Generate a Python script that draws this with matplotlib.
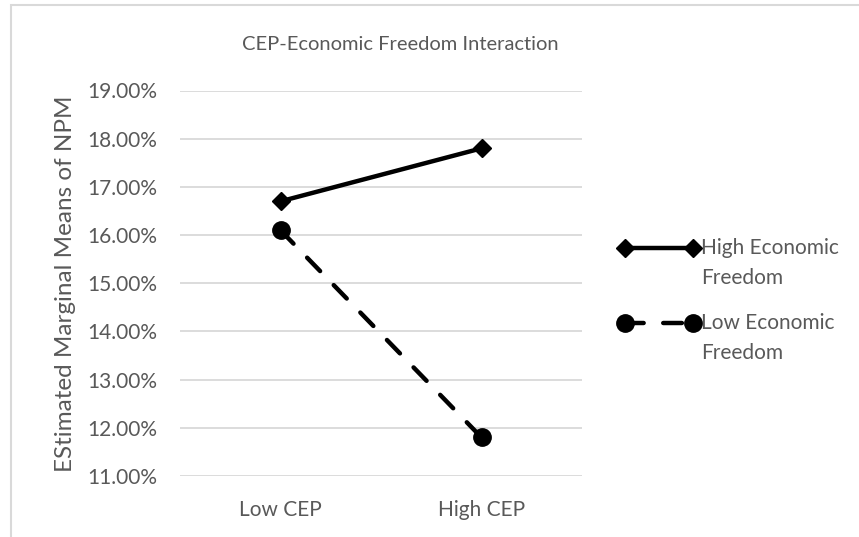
import matplotlib
matplotlib.use("Agg")
import matplotlib.pyplot as plt
from matplotlib.lines import Line2D
from matplotlib.patches import Rectangle
from matplotlib.ticker import FuncFormatter

# chart data
categories = ["Low CEP", "High CEP"]
high_freedom = [16.7, 17.8]   # %
low_freedom = [16.1, 11.8]    # %
series_labels = ["High Economic\nFreedom", "Low Economic\nFreedom"]
y_ticks = [11, 12, 13, 14, 15, 16, 17, 18, 19]

plt.rcParams["font.family"] = ["Lato", "DejaVu Sans"]
text_grey = "#595959"
grid_grey = "#d9d9d9"
W, H = 859, 537

fig = plt.figure(figsize=(W / 100, H / 100), dpi=100)
ax = fig.add_axes([180 / W, 1 - 476 / H, 402 / W, 385.5 / H])

high_style = dict(color="black", lw=3.2, marker="D", markersize=9.5)
low_style = dict(color="black", lw=3.2, ls=(0, (4.2, 4.4)),
                 dash_capstyle="round", marker="o", markersize=12.5)

x = [0.5, 1.5]
ax.plot(x, high_freedom, **high_style)
ax.plot(x, low_freedom, **low_style)

ax.set_xlim(0, 2)
ax.set_ylim(11, 19)
ax.set_yticks(y_ticks)
ax.yaxis.set_major_formatter(FuncFormatter(lambda v, _: f"{v:.2f}%"))
ax.set_xticks(x)
ax.set_xticklabels(categories)
ax.grid(axis="y", color=grid_grey, lw=1.3)
ax.set_axisbelow(True)
for s in ax.spines.values():
    s.set_visible(False)
ax.tick_params(length=0, labelsize=15, colors=text_grey, pad=16.5)
ax.tick_params(axis="x", pad=17)

ax.set_ylabel("EStimated Marginal Means of NPM", fontsize=17.5,
              color=text_grey)
ax.yaxis.set_label_coords((76 - 180) / 402, 0.5)

fig.text(400 / W, 1 - 45 / H, "CEP-Economic Freedom Interaction",
         ha="center", va="center", fontsize=14.5, color=text_grey)

# legend drawn by hand: handle sits on the first text line like Excel does
for label, style, y_px in [(series_labels[0], high_style, 248),
                           (series_labels[1], low_style, 323)]:
    yf = 1 - y_px / H
    fig.add_artist(Line2D([625 / W, 693 / W], [yf, yf],
                          transform=fig.transFigure, **style))
    fig.text(701 / W, 1 - (y_px - 10) / H, label, ha="left", va="top",
             fontsize=15, color=text_grey, linespacing=1.65)

# chart border (cropped at right/bottom)
fig.patches.append(Rectangle((11 / W, -0.1), 1.2, 1.1 - 5 / H,
                             transform=fig.transFigure, fill=False,
                             edgecolor=grid_grey, lw=1.5))

fig.savefig("out.png", dpi=100)
